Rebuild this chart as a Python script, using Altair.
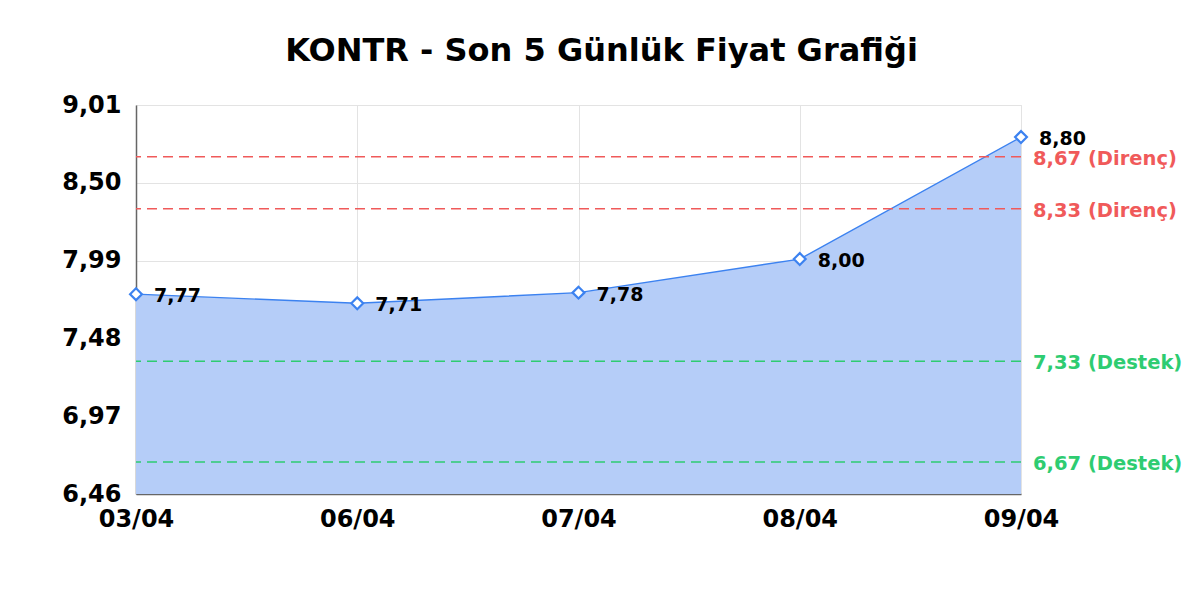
import altair as alt
import pandas as pd

dates = ["03/04", "06/04", "07/04", "08/04", "09/04"]
prices = [7.77, 7.71, 7.78, 8.00, 8.80]
price_labels = ["7,77", "7,71", "7,78", "8,00", "8,80"]

res_levels = [8.67, 8.33]
res_labels = ["8,67 (Direnç)", "8,33 (Direnç)"]
sup_levels = [7.33, 6.67]
sup_labels = ["7,33 (Destek)", "6,67 (Destek)"]

y_ticks = [6.46, 6.97, 7.48, 7.99, 8.50, 9.01]
y_min, y_max = 6.46, 9.01

df = pd.DataFrame({"date": dates, "price": prices, "label": price_labels})
ref = pd.DataFrame({
    "level": res_levels + sup_levels,
    "label": res_labels + sup_labels,
    "kind": ["res", "res", "sup", "sup"],
    "last": [dates[-1]] * 4,
})

FONT = "DejaVu Sans"
BLUE = "#3c82f0"
RED = "#f05a5a"
GREEN = "#2ecc71"

x_scale = alt.Scale(type="point", padding=0)
x_enc = alt.X("date:N", sort=dates, scale=x_scale,
              axis=alt.Axis(title=None, labelAngle=0, labelFont=FONT, labelFontSize=24,
                            labelFontWeight="bold", labelColor="#000", labelPadding=13,
                            ticks=False, domainColor="#666", grid=True, gridColor="#e3e3e3",
                            labelFlush=False, labelBaseline="top"))
y_scale = alt.Scale(domain=[y_min, y_max], nice=False, zero=False)
y_enc = alt.Y("price:Q", scale=y_scale,
              axis=alt.Axis(title=None, values=y_ticks,
                            labelExpr="replace(format(datum.value, '.2f'), '.', ',')",
                            labelFont=FONT, labelFontSize=24, labelFontWeight="bold",
                            labelColor="#000", labelPadding=15, ticks=False,
                            domainColor="#666", gridColor="#e3e3e3"))

base = alt.Chart(df)

area = base.mark_area(color="#b5cdf8", opacity=1, line={"color": BLUE, "strokeWidth": 1.4}).encode(
    x=x_enc, y=y_enc, y2=alt.datum(y_min))

color_enc = alt.Color("kind:N", scale=alt.Scale(domain=["res", "sup"], range=[RED, GREEN]), legend=None)

rules = alt.Chart(ref).mark_rule(strokeDash=[10, 6], strokeWidth=1.5).encode(
    y=alt.Y("level:Q", scale=y_scale),
    color=color_enc,
)

ref_text = alt.Chart(ref).mark_text(align="left", baseline="middle", dx=12, dy=2, font=FONT,
                                    fontSize=19.5, fontWeight="bold").encode(
    x=alt.X("last:N", sort=dates, scale=x_scale),
    y=alt.Y("level:Q", scale=y_scale),
    text="label:N",
    color=color_enc,
)

points = base.mark_point(shape="diamond", filled=True, fill="white", stroke=BLUE,
                         strokeWidth=2.2, size=140, opacity=1).encode(x=x_enc, y=y_enc)

labels = base.mark_text(align="left", baseline="middle", dx=18, dy=2, font=FONT,
                        fontSize=19, fontWeight="bold", color="#000").encode(
    x=x_enc, y=y_enc, text="label:N")

chart = alt.layer(area, rules, points, labels, ref_text).properties(
    width=885, height=389,
    title=alt.TitleParams("KONTR - Son 5 Günlük Fiyat Grafiği", font=FONT, fontSize=32,
                          fontWeight="bold", color="#000", offset=25, anchor="middle", dx=23),
    autosize=alt.AutoSizeParams(type="none"),
    padding={"left": 128, "top": 97, "right": 170, "bottom": 90},
).configure_view(stroke="#e3e3e3").configure_axis(domainWidth=1.5)

chart.save("out.html", embed_options={"renderer": "svg", "actions": False})
